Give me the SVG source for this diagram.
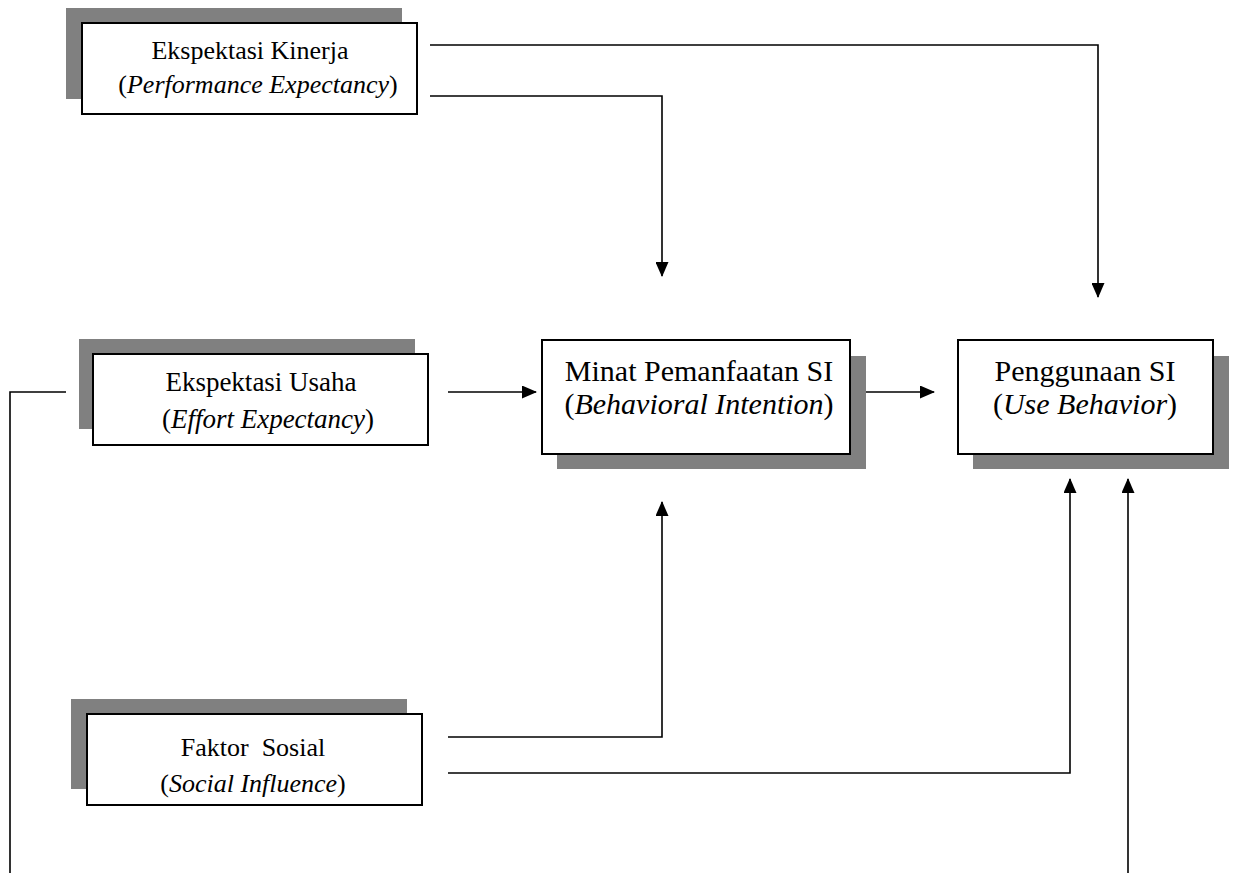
<svg xmlns="http://www.w3.org/2000/svg" width="1235" height="873" viewBox="0 0 1235 873">
<style>
.shadow{fill:#808080;stroke:none}
.box{fill:#fff;stroke:#000;stroke-width:2}
.t{font-family:"Liberation Serif","Times New Roman",serif;fill:#000;text-anchor:middle;white-space:pre}
.s{font-size:26px}
.u{font-size:27px}
.m{font-size:30px}
.c{fill:none;stroke:#000;stroke-width:1.6}
</style>
<defs>
<marker id="ah" markerWidth="15" markerHeight="13" refX="14" refY="6.5" orient="auto" markerUnits="userSpaceOnUse">
<path d="M0,0 L15,6.5 L0,13 Z" fill="#000"/>
</marker>
</defs>
<rect width="1235" height="873" fill="#fff"/>
<g id="connectors">
<polyline class="c" points="430,45 1098,45 1098,297" marker-end="url(#ah)"/>
<polyline class="c" points="430,96 662,96 662,276" marker-end="url(#ah)"/>
<polyline class="c" points="448,392 536,392" marker-end="url(#ah)"/>
<polyline class="c" points="866,392 934,392" marker-end="url(#ah)"/>
<polyline class="c" points="448,737 662,737 662,502" marker-end="url(#ah)"/>
<polyline class="c" points="448,773 1070,773 1070,479" marker-end="url(#ah)"/>
<polyline class="c" points="1128,873 1128,479" marker-end="url(#ah)"/>
<polyline class="c" points="10,873 10,392 66,392"/>
</g>
<g id="node-kinerja">
<rect class="shadow" x="66" y="8" width="336" height="91"/>
<rect class="box" x="82" y="23" width="335" height="91"/>
<text class="t s" x="250" y="59">Ekspektasi Kinerja</text>
<text class="t s" x="258" y="93">(<tspan font-style="italic">Performance Expectancy</tspan>)</text>
</g>
<g id="node-usaha">
<rect class="shadow" x="79" y="339" width="336" height="90"/>
<rect class="box" x="93" y="354" width="335" height="91"/>
<text class="t u" x="261" y="391">Ekspektasi Usaha</text>
<text class="t u" x="268" y="428">(<tspan font-style="italic">Effort Expectancy</tspan>)</text>
</g>
<g id="node-sosial">
<rect class="shadow" x="71" y="699" width="336" height="90"/>
<rect class="box" x="87" y="714" width="335" height="91"/>
<text class="t s" x="253" y="756">Faktor  Sosial</text>
<text class="t s" x="253" y="792">(<tspan font-style="italic">Social Influence</tspan>)</text>
</g>
<g id="node-minat">
<rect class="shadow" x="557" y="356" width="309" height="113"/>
<rect class="box" x="542" y="340" width="308" height="114"/>
<text class="t m" x="699" y="381">Minat Pemanfaatan SI</text>
<text class="t m" x="699" y="414">(<tspan font-style="italic">Behavioral Intention</tspan>)</text>
</g>
<g id="node-penggunaan">
<rect class="shadow" x="973" y="356" width="256" height="113"/>
<rect class="box" x="958" y="340" width="255" height="114"/>
<text class="t m" x="1085" y="381">Penggunaan SI</text>
<text class="t m" x="1085" y="414">(<tspan font-style="italic">Use Behavior</tspan>)</text>
</g>
</svg>
